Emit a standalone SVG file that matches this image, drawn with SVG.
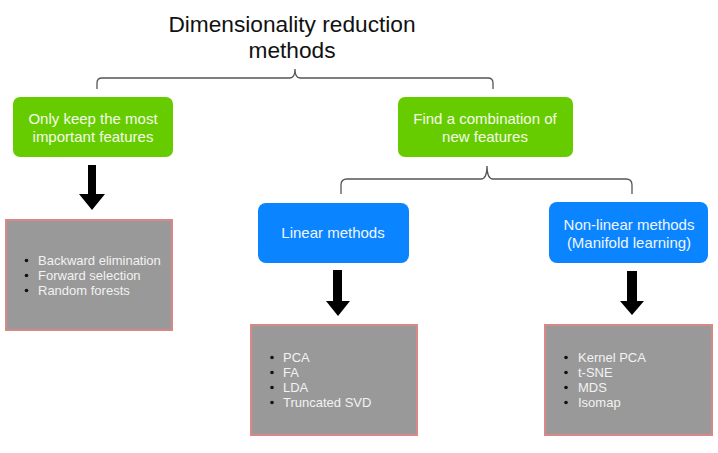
<svg xmlns="http://www.w3.org/2000/svg" width="718" height="453" viewBox="0 0 718 453">
<style>
.title{font-family:"Liberation Sans",Arial,sans-serif;font-size:22.7px;fill:#111;text-anchor:middle}
.lbl{font-family:"Liberation Sans",Arial,sans-serif;font-size:15px;fill:#f4fbe8;text-anchor:middle}
.green{fill:#66cc00}
.blue{fill:#0a84ff}
.gray{fill:#999999;stroke:#d98888;stroke-width:2}
.item{font-family:"Liberation Sans",Arial,sans-serif;font-size:13px;fill:#f2f2f2}
.bul{fill:#111}
.brace{fill:none;stroke:#555;stroke-width:1.3}
.arrow{fill:#000}
</style>
<rect width="718" height="453" fill="#fff"/>
<g id="title">
<text class="title" x="292" y="32">Dimensionality reduction</text>
<text class="title" x="292" y="58">methods</text>
</g>
<g id="connectors">
<path class="brace" d="M97,89 V83 Q97,78 102,78 H290 Q295,78 295,69 Q295,78 300,78 H488 Q493,78 493,83 V89"/>
<path class="brace" d="M341,194 V185 Q341,179 347,179 H481 Q487,179 487,166 Q487,179 493,179 H626 Q632,179 632,185 V194"/>
<path class="arrow" d="M88,165 H96 V194 H105 L92,210 L79,194 H88 Z"/>
<path class="arrow" d="M333,270 H342 V301 H350 L338,316 L326,301 H333 Z"/>
<path class="arrow" d="M627,271 H637 V301 H644 L632,315 L620,301 H627 Z"/>
</g>
<g id="keep">
<rect class="green" x="13" y="97" width="160" height="60" rx="7"/>
<text class="lbl" x="93" y="124">Only keep the most</text>
<text class="lbl" x="93" y="142">important features</text>
</g>
<g id="combine">
<rect class="green" x="398" y="97" width="175" height="60" rx="7"/>
<text class="lbl" x="485" y="124">Find a combination of</text>
<text class="lbl" x="485" y="142">new features</text>
</g>
<g id="linear">
<rect class="blue" x="258" y="203" width="151" height="60" rx="8"/>
<text class="lbl" x="333" y="238" style="fill:#eef6ff">Linear methods</text>
</g>
<g id="nonlinear">
<rect class="blue" x="549" y="202" width="159" height="61" rx="8"/>
<text class="lbl" x="629" y="230" style="fill:#eef6ff">Non-linear methods</text>
<text class="lbl" x="629" y="248" style="fill:#eef6ff">(Manifold learning)</text>
</g>
<g id="list-keep">
<rect class="gray" x="6" y="220" width="166" height="110"/>
<circle class="bul" cx="26.5" cy="260.5" r="1.8"/>
<circle class="bul" cx="26.5" cy="275.5" r="1.8"/>
<circle class="bul" cx="26.5" cy="290.5" r="1.8"/>
<text class="item" x="38" y="265">Backward elimination</text>
<text class="item" x="38" y="280">Forward selection</text>
<text class="item" x="38" y="295">Random forests</text>
</g>
<g id="list-linear">
<rect class="gray" x="251" y="325" width="166" height="110"/>
<circle class="bul" cx="272" cy="357.5" r="1.8"/>
<circle class="bul" cx="272" cy="372.5" r="1.8"/>
<circle class="bul" cx="272" cy="387.5" r="1.8"/>
<circle class="bul" cx="272" cy="402.5" r="1.8"/>
<text class="item" x="283" y="362">PCA</text>
<text class="item" x="283" y="377">FA</text>
<text class="item" x="283" y="392">LDA</text>
<text class="item" x="283" y="407">Truncated SVD</text>
</g>
<g id="list-nonlinear">
<rect class="gray" x="545" y="325" width="167" height="110"/>
<circle class="bul" cx="566" cy="357.5" r="1.8"/>
<circle class="bul" cx="566" cy="372.5" r="1.8"/>
<circle class="bul" cx="566" cy="387.5" r="1.8"/>
<circle class="bul" cx="566" cy="402.5" r="1.8"/>
<text class="item" x="578" y="362">Kernel PCA</text>
<text class="item" x="578" y="377">t-SNE</text>
<text class="item" x="578" y="392">MDS</text>
<text class="item" x="578" y="407">Isomap</text>
</g>
</svg>
